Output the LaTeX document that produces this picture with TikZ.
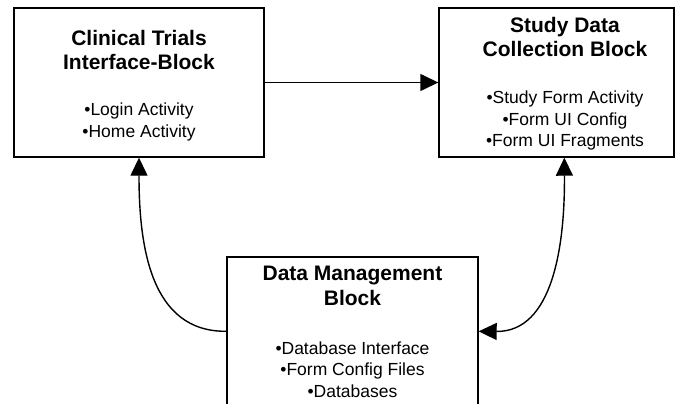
\documentclass[tikz,border=0pt]{standalone}
\usepackage{fontspec}
\setmainfont{Liberation Sans}
\usetikzlibrary{arrows.meta,calc}
\tikzset{
  block/.style={draw=black, line width=1.4pt, fill=white, inner sep=0pt},
  ttl/.style={align=center, inner sep=0pt, font=\fontsize{21}{24.5}\selectfont\bfseries},
  items/.style={align=center, inner sep=0pt, font=\fontsize{17.5}{21.5}\selectfont},
  conn/.style={line width=1.4pt, draw=black},
  tip/.style={-{Triangle[length=18pt,width=17pt]}},
  tips/.style={{Triangle[length=18pt,width=17pt]}-{Triangle[length=18pt,width=17pt]}}
}
\begin{document}
\begin{tikzpicture}[x=1pt,y=-1pt]
\useasboundingbox (0,0) rectangle (678,404);
\clip (0,0) rectangle (678,404);
\fill[white] (0,0) rectangle (678,404);
% boxes
\node[block, minimum width=250pt, minimum height=149pt] (A) at (139,82.5) {};
\node[block, minimum width=235pt, minimum height=149pt] (B) at (556.5,82.5) {};
\node[block, minimum width=251pt, minimum height=173pt] (C) at (352.5,343.5) {};
% texts
\node[ttl] (At) at (139,50) {Clinical Trials\\Interface-Block};
\node[items] (Ai) at (139,122) {•Login Activity\\•Home Activity};
\node[ttl] (Bt) at (565,37) {Study Data\\Collection Block};
\node[items] (Bi) at (565,120.5) {•Study Form Activity\\•Form UI Config\\•Form UI Fragments};
\node[ttl] (Ct) at (352.5,286) {Data Management\\Block};
\node[items] (Ci) at (352.5,369.5) {•Database Interface\\•Form Config Files\\•Databases};
% connector anchors
\coordinate (Cw) at ($(C.north west)+(0,75)$);
\coordinate (Ce) at ($(C.north east)+(0,75)$);
\coordinate (Bs) at ($(B.south west)+(126,0)$);
% connectors
\draw[conn, tip] (A.east) -- (B.west);
\draw[conn, tip] (Cw) .. controls (150,332) and (139,245) .. (A.south);
\draw[conn, tips] (Ce) .. controls (553,332) and (565,245) .. (Bs);
\end{tikzpicture}
\end{document}
